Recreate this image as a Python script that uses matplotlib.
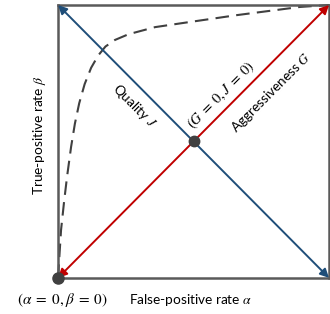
import matplotlib
matplotlib.use("Agg")
import matplotlib.pyplot as plt

plt.rcParams['mathtext.fontset'] = 'stix'

# dashed ROC-like curve
curve_x = [0, 0.004, 0.011, 0.022, 0.033, 0.048, 0.062, 0.078, 0.098, 0.122, 0.148, 0.175,
           0.21, 0.26, 0.358, 0.46, 0.66, 0.893, 1.0]
curve_y = [0, 0.066, 0.176, 0.278, 0.37, 0.48, 0.565, 0.64, 0.71, 0.77, 0.815, 0.848,
           0.872, 0.893, 0.919, 0.934, 0.963, 0.993, 1.0]

red_start, red_end = (0, 0), (1, 1)
blue_start, blue_end = (0, 1), (1, 0)
center_pt = (0.5, 0.5)
origin_pt = (0, 0)

label_quality = "Quality $J$"
label_center = r"$(G\;=\;0, J\;=\;0)$"
label_aggr = "Aggressiveness $G$"
label_y = r"True-positive rate $\beta$"
label_x = r"False-positive rate $\alpha$"
label_origin = r"$(\alpha\;=\;0,\beta\;=\;0)$"

fig = plt.figure(figsize=(3.30, 3.14), dpi=100)
ax = fig.add_axes([0.176, 0.115, 0.821, 0.869])
ax.set_xlim(0, 1)
ax.set_ylim(0, 1)
ax.set_xticks([])
ax.set_yticks([])
for s in ax.spines.values():
    s.set_color('#5a5a5a')
    s.set_linewidth(1.8)

gray = '#404040'
blue = '#1F4E79'
red = '#C00000'
font = 'Lato'
fs = 9.8

ln, = ax.plot(curve_x, curve_y, color=gray, lw=1.5, clip_on=False, zorder=2)
ln.set_dashes((6.5, 3.5))

ax.annotate('', xy=blue_end, xytext=blue_start,
            arrowprops=dict(arrowstyle='<|-|>', color=blue, lw=1.4,
                            mutation_scale=13, shrinkA=0, shrinkB=0),
            annotation_clip=False, zorder=3)
ax.annotate('', xy=red_end, xytext=red_start,
            arrowprops=dict(arrowstyle='<|-|>', color=red, lw=1.4,
                            mutation_scale=13, shrinkA=0, shrinkB=0),
            annotation_clip=False, zorder=3)

ax.plot(*center_pt, 'o', color=gray, ms=7.5, zorder=5, clip_on=False)
ax.plot(*origin_pt, 'o', color=gray, ms=8, zorder=5, clip_on=False)

ax.text(0.283, 0.628, label_quality, rotation=-45, ha='center', va='center',
        fontsize=fs, family=font, color='black', rotation_mode='anchor')
ax.text(0.603, 0.670, label_center, rotation=45, ha='center', va='center',
        fontsize=10.5, color='black', rotation_mode='anchor')
ax.text(0.788, 0.679, label_aggr, rotation=45, ha='center', va='center',
        fontsize=fs, family=font, color='black', rotation_mode='anchor')

fig.text(40 / 330, 1 - 135 / 314, label_y, rotation=90, ha='center', va='center',
         fontsize=fs, family=font)
fig.text(191 / 330, 1 - 300 / 314, label_x, ha='center', va='center',
         fontsize=fs, family=font)
fig.text(62 / 330, 1 - 300 / 314, label_origin, ha='center', va='center',
         fontsize=11)

fig.savefig('out.png', dpi=100)
